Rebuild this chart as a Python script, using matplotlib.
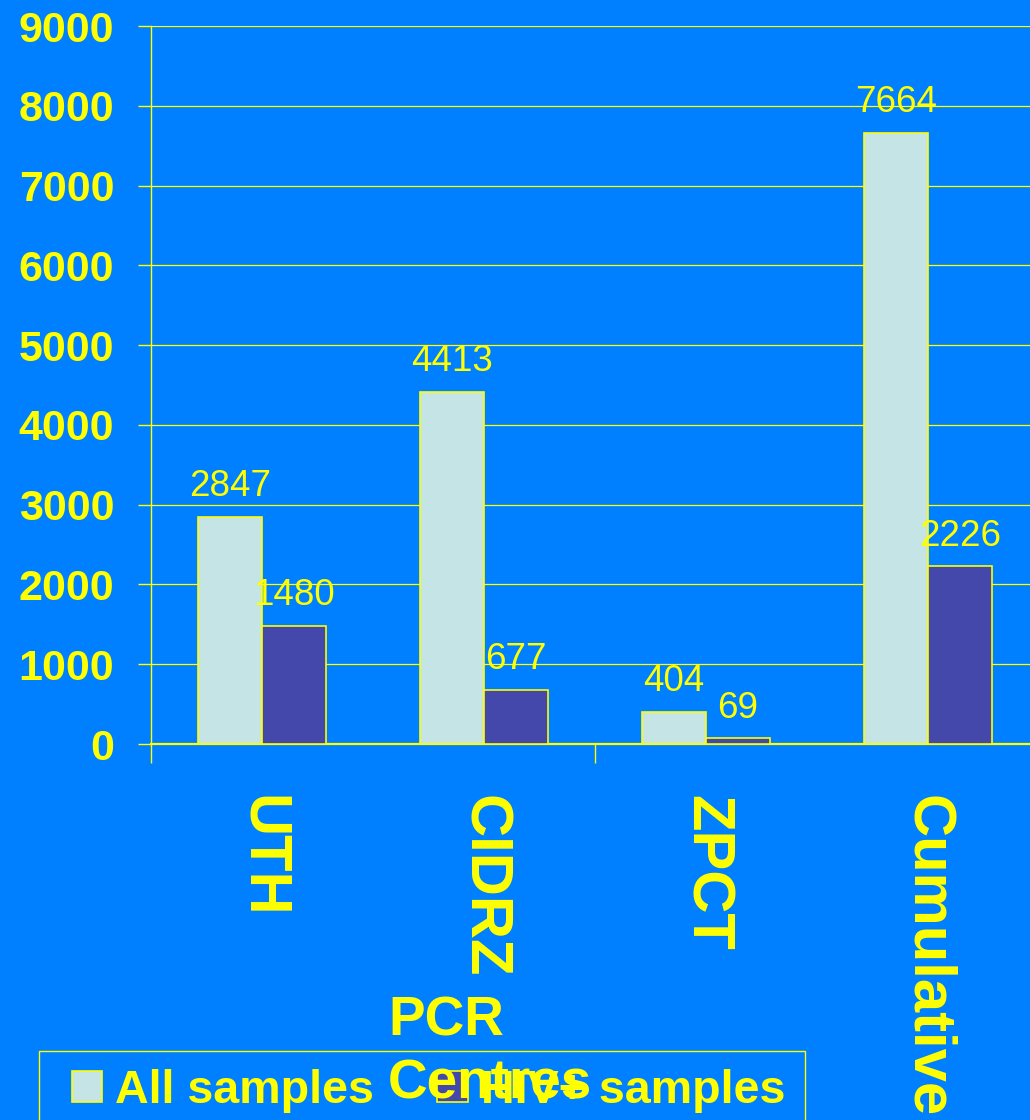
import matplotlib
matplotlib.use("Agg")
import matplotlib.pyplot as plt
from matplotlib.patches import Rectangle
import numpy as np

categories = ["UTH", "CIDRZ", "ZPCT", "Cumulative"]
all_samples = [2847, 4413, 404, 7664]
hiv_samples = [1480, 677, 69, 2226]
yticks = [0, 1000, 2000, 3000, 4000, 5000, 6000, 7000, 8000, 9000]
series_names = ["All samples", "HIV+ samples"]

BG = "#0080FF"
YEL = "#FFFF00"
LIGHT = "#C4E4E6"
DARK = "#4448AA"

plt.rcParams['font.family'] = ['Liberation Sans', 'DejaVu Sans']

fig = plt.figure(figsize=(10.3, 11.2), dpi=100, facecolor=BG)
ax = fig.add_axes([151/1030, 1-744/1120, (1039-151)/1030, (744-26)/1120])
ax.set_facecolor(BG)

x = np.arange(len(categories))
w = 0.288
b1 = ax.bar(x - w/2, all_samples, w, color=LIGHT, edgecolor=YEL, linewidth=1.2,
            label=series_names[0], zorder=3)
b2 = ax.bar(x + w/2, hiv_samples, w, color=DARK, edgecolor=YEL, linewidth=1.2,
            label=series_names[1], zorder=3)

for bars, vals in ((b1, all_samples), (b2, hiv_samples)):
    for r, v in zip(bars, vals):
        ax.annotate(str(v), (r.get_x() + r.get_width()/2, v), xytext=(0, 15),
                    textcoords="offset points", ha="center", va="baseline",
                    color=YEL, fontsize=26.5, zorder=4)

ax.set_xlim(-0.5, 3.5)
ax.set_ylim(0, 9000)
ax.set_yticks(yticks)
ax.set_yticklabels([str(t) for t in yticks])
ax.tick_params(axis="y", colors=YEL, labelcolor=YEL, labelsize=31, length=9.4,
               width=1, pad=17)
for lab in ax.get_yticklabels():
    lab.set_fontweight("bold")

ax.set_xticks(x)
ax.set_xticklabels(categories, rotation=270, fontsize=43, fontweight="bold",
                   color=YEL)
ax.tick_params(axis="x", which="major", length=0, pad=37)
ax.set_xticks([-0.5, 1.5, 3.5], minor=True)
ax.tick_params(axis="x", which="minor", length=13.7, width=1, color=YEL)

ax.grid(axis="y", color=YEL, linewidth=0.9, zorder=0)
ax.set_axisbelow(True)
for s in ("top", "right"):
    ax.spines[s].set_visible(False)
ax.spines["left"].set_color(YEL)
ax.spines["left"].set_linewidth(1)
ax.spines["bottom"].set_color(YEL)
ax.spines["bottom"].set_linewidth(1.6)

# legend frame drawn separately (extends past the bottom edge)
frame = Rectangle((39/1030, -0.05), 766/1030, (1120-1051)/1120 + 0.05,
                  transform=fig.transFigure, facecolor="none", edgecolor=YEL,
                  linewidth=1, zorder=4)
fig.patches.append(frame)

leg = fig.legend(handles=[b1, b2], labels=series_names, loc="upper left",
                 bbox_to_anchor=(72/1030, 1-1069/1120), ncol=2,
                 prop={"weight": "bold", "size": 33.6}, labelcolor=YEL,
                 handlelength=0.65, handleheight=0.65, handletextpad=0.28,
                 columnspacing=1.35, borderpad=0, borderaxespad=0,
                 frameon=False)
leg.set_zorder(5)

fig.text(388/1030, 1-995/1120, "PCR\nCentres", ha="left", va="top",
         fontsize=39.5, fontweight="bold", color=YEL, linespacing=1.28,
         zorder=10)

fig.savefig("out.png", dpi=100, facecolor=BG)
